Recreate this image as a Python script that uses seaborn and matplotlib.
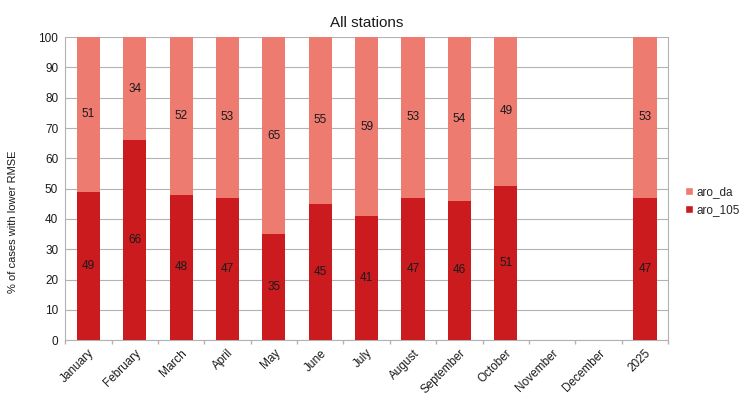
import numpy as np
import pandas as pd
import matplotlib
matplotlib.use("Agg")
import matplotlib.pyplot as plt
from matplotlib.patches import Patch
from matplotlib.ticker import MultipleLocator, FixedLocator
import seaborn as sns

MONTHS = ["January", "February", "March", "April", "May", "June", "July",
          "August", "September", "October", "November", "December", "2025"]
ARO_105 = [49, 66, 48, 47, 35, 45, 41, 47, 46, 51, np.nan, np.nan, 47]
ARO_DA = [51, 34, 52, 53, 65, 55, 59, 53, 54, 49, np.nan, np.nan, 53]

COLOR_105 = "#CC1B1E"
COLOR_DA = "#EE7B70"

sns.set_theme(style="white")
plt.rcParams["font.family"] = ["Liberation Sans", "DejaVu Sans"]

df = pd.DataFrame({"month": MONTHS, "aro_105": ARO_105, "aro_da": ARO_DA})
df["total"] = df["aro_105"] + df["aro_da"]

fig = plt.figure(figsize=(7.4, 3.95), dpi=100)
ax = fig.add_axes([0.088, 0.139, 0.815, 0.767])

bar_kw = dict(order=MONTHS, width=0.5, saturation=1, linewidth=0,
              edgecolor="none", ax=ax)
sns.barplot(data=df, x="month", y="total", color=COLOR_DA, zorder=2, **bar_kw)
sns.barplot(data=df, x="month", y="aro_105", color=COLOR_105, zorder=3, **bar_kw)

for i, (lo, hi) in enumerate(zip(ARO_105, ARO_DA)):
    if np.isnan(lo):
        continue
    ax.text(i, lo / 2, f"{lo:.0f}", ha="center", va="center", fontsize=8.5,
            color="#1a1a1a", zorder=4)
    ax.text(i, lo + hi / 2, f"{hi:.0f}", ha="center", va="center", fontsize=8.5,
            color="#1a1a1a", zorder=4)

ax.set_xlim(-0.5, len(MONTHS) - 0.5)
ax.set_ylim(0, 100)
ax.yaxis.set_major_locator(MultipleLocator(10))
ax.grid(axis="y", color="#b3b3b3", linewidth=0.8, zorder=0)
ax.set_axisbelow(True)

ax.set_xlabel("")
ax.set_ylabel("")
# y label sits centred on the whole chart area, not just the axes
fig.text(0.0176, 0.438, "% of cases with lower RMSE", rotation=90,
         ha="center", va="center", fontsize=8, color="#1a1a1a")
ax.set_title("All stations", fontsize=11, color="#1a1a1a", pad=7)

ax.tick_params(axis="y", labelsize=8.5, length=3, color="#b3b3b3",
               labelcolor="#1a1a1a", pad=2)
ax.tick_params(axis="x", which="major", length=0, labelsize=8.5,
               labelcolor="#1a1a1a", pad=5)
ax.xaxis.set_minor_locator(FixedLocator(np.arange(-0.5, len(MONTHS), 1.0)))
ax.tick_params(axis="x", which="minor", length=3, color="#b3b3b3", bottom=True)
plt.setp(ax.get_xticklabels(), rotation=45, ha="right", rotation_mode="anchor")

for side in ["left", "bottom", "right"]:
    ax.spines[side].set_visible(True)
    ax.spines[side].set_color("#b3b3b3")
    ax.spines[side].set_linewidth(0.8)
ax.spines["top"].set_visible(False)

handles = [Patch(facecolor=COLOR_DA, label="aro_da"),
           Patch(facecolor=COLOR_105, label="aro_105")]
fig.legend(handles=handles, loc="center left", bbox_to_anchor=(0.925, 0.49),
           frameon=False, fontsize=8.5, handlelength=0.7, handleheight=0.7,
           handletextpad=0.3, labelspacing=0.5, borderaxespad=0,
           borderpad=0)

fig.savefig("out.png", dpi=100)
